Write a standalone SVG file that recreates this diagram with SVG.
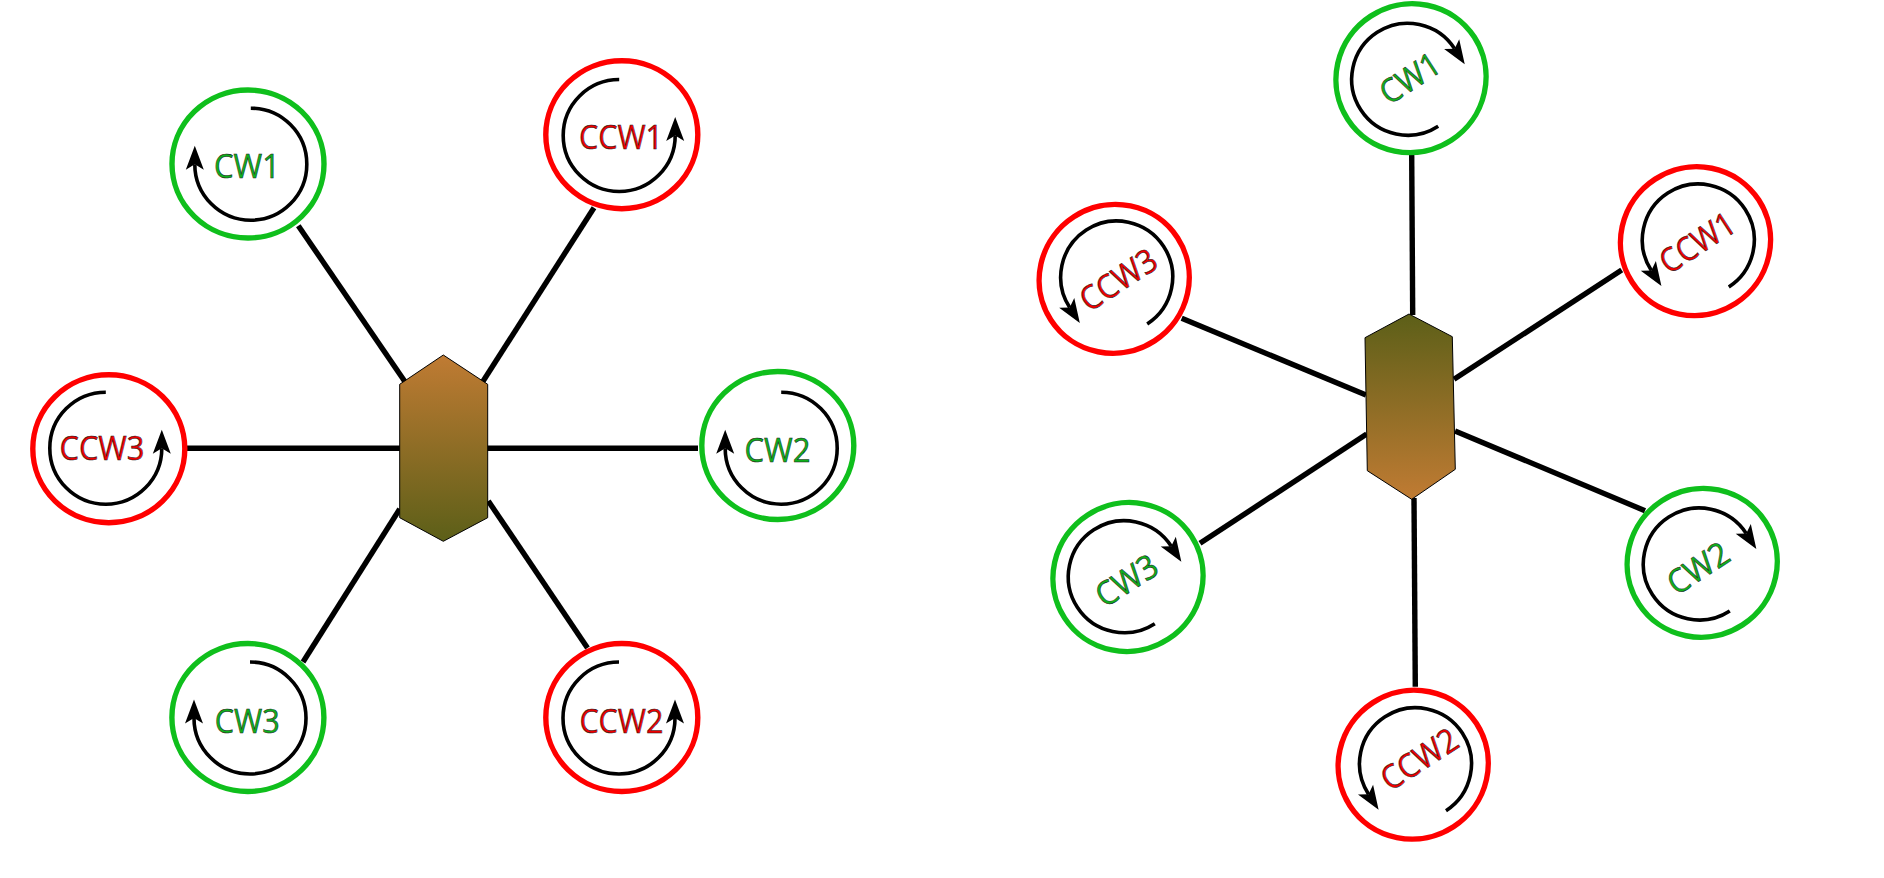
<svg xmlns="http://www.w3.org/2000/svg" width="1884" height="878" viewBox="0 0 1884 878">
<style>
.arm{stroke:#000;stroke-width:5.4;fill:none}
.ring{fill:#fff;stroke-width:5.4}
.g .ring{stroke:#0fbf1c}
.r .ring{stroke:#ff0000}
.spin{fill:none;stroke:#000;stroke-width:3.6;marker-end:url(#head)}
text{font-family:"Open Sans","Liberation Sans",sans-serif;font-size:33px;text-anchor:middle;stroke:#1a1a1a;stroke-width:.55px}
.g text{fill:#0fb01c}
.r text{fill:#ee0000}
.body{stroke:#000;stroke-width:1}
</style>
<defs>
<marker id="head" markerUnits="userSpaceOnUse" orient="auto" viewBox="-10 -11 32 22" refX="0" refY="0" markerWidth="32" markerHeight="22">
<path d="M18.5,0 L-5.5,-9 L0,0 L-5.5,9 Z" fill="#000"/>
</marker>
<linearGradient id="gradL" gradientUnits="userSpaceOnUse" x1="443" y1="355" x2="443" y2="541">
<stop offset="0" stop-color="#c07b33"/><stop offset="1" stop-color="#5c5f18"/>
</linearGradient>
<linearGradient id="gradR" gradientUnits="userSpaceOnUse" x1="1409" y1="314" x2="1412" y2="499">
<stop offset="0" stop-color="#5c5f18"/><stop offset="1" stop-color="#c07b33"/>
</linearGradient>
<path id="cw" class="spin" d="M0,-56 A56,56 0 1 1 -56,0"/>
<path id="ccw" class="spin" d="M0,-56 A56,56 0 1 0 56,0"/>
</defs>
<g id="connectors">
<line class="arm" x1="298.3" y1="225.7" x2="405" y2="381.7"/>
<line class="arm" x1="594" y1="207.7" x2="482.7" y2="381.7"/>
<line class="arm" x1="187" y1="448.3" x2="400" y2="448.3"/>
<line class="arm" x1="487" y1="448.3" x2="698" y2="448.3"/>
<line class="arm" x1="399.7" y1="509" x2="303" y2="662"/>
<line class="arm" x1="488.3" y1="501" x2="587.5" y2="648"/>
<line class="arm" x1="1411.7" y1="155" x2="1412.7" y2="315"/>
<line class="arm" x1="1414" y1="498" x2="1415.3" y2="686.7"/>
<line class="arm" x1="1181.7" y1="318.3" x2="1366" y2="395"/>
<line class="arm" x1="1454" y1="379.3" x2="1621.7" y2="270"/>
<line class="arm" x1="1455" y1="431" x2="1645" y2="510.7"/>
<line class="arm" x1="1366.7" y1="434" x2="1200" y2="543.3"/>
</g>
<g id="body-left"><polygon class="body" fill="url(#gradL)" points="443.3,355 487.7,384.3 487.7,517.7 443.3,541.3 399.7,517.7 399.7,384.3"/></g>
<g id="body-right"><polygon class="body" fill="url(#gradR)" points="1409,314 1452.3,336.7 1455.3,469.3 1411.7,499.3 1367.3,470.7 1365,337.7"/></g>

<g id="left-cw1" class="g"><ellipse class="ring" cx="248" cy="164" rx="76" ry="74"/><use href="#cw" transform="translate(250.8,164.2)"/><text x="247" y="178.3" textLength="66" lengthAdjust="spacingAndGlyphs">CW1</text></g>
<g id="left-ccw1" class="r"><ellipse class="ring" cx="621.8" cy="134.7" rx="76" ry="74"/><use href="#ccw" transform="translate(619.2,135.5)"/><text x="621" y="149" textLength="84" lengthAdjust="spacingAndGlyphs">CCW1</text></g>
<g id="left-ccw3" class="r"><ellipse class="ring" cx="108.8" cy="448.8" rx="76" ry="74"/><use href="#ccw" transform="translate(105.8,448.2)"/><text x="102" y="460" textLength="85" lengthAdjust="spacingAndGlyphs">CCW3</text></g>
<g id="left-cw2" class="g"><ellipse class="ring" cx="777.8" cy="445.5" rx="76" ry="74"/><use href="#cw" transform="translate(781.2,448.2)"/><text x="777.5" y="462.3" textLength="66" lengthAdjust="spacingAndGlyphs">CW2</text></g>
<g id="left-cw3" class="g"><ellipse class="ring" cx="247.9" cy="717.5" rx="76" ry="74"/><use href="#cw" transform="translate(250,718)"/><text x="247.3" y="732.5" textLength="65" lengthAdjust="spacingAndGlyphs">CW3</text></g>
<g id="left-ccw2" class="r"><ellipse class="ring" cx="621.8" cy="717.5" rx="76" ry="74"/><use href="#ccw" transform="translate(619,718)"/><text x="621.4" y="732.5" textLength="84" lengthAdjust="spacingAndGlyphs">CCW2</text></g>

<g id="right-cw1" class="g"><ellipse class="ring" cx="1411" cy="78.2" rx="75.5" ry="74" transform="rotate(147 1411 78.2)"/><use href="#cw" transform="translate(1407.7,79.3) rotate(147)"/><text transform="translate(1410,78.3) rotate(-33)" y="11.5" textLength="65" lengthAdjust="spacingAndGlyphs">CW1</text></g>
<g id="right-ccw3" class="r"><ellipse class="ring" cx="1114.2" cy="278.8" rx="75.5" ry="74" transform="rotate(147 1114.2 278.8)"/><use href="#ccw" transform="translate(1116.7,277) rotate(147)"/><text transform="translate(1118.3,280) rotate(-33)" y="11.5" textLength="85" lengthAdjust="spacingAndGlyphs">CCW3</text></g>
<g id="right-ccw1" class="r"><ellipse class="ring" cx="1695.5" cy="241.2" rx="75.5" ry="74" transform="rotate(147 1695.5 241.2)"/><use href="#ccw" transform="translate(1698.3,240) rotate(147)"/><text transform="translate(1697.3,242.7) rotate(-33)" y="11.5" textLength="83" lengthAdjust="spacingAndGlyphs">CCW1</text></g>
<g id="right-cw2" class="g"><ellipse class="ring" cx="1702.2" cy="562.8" rx="75.5" ry="74" transform="rotate(147 1702.2 562.8)"/><use href="#cw" transform="translate(1699.3,564) rotate(147)"/><text transform="translate(1698.3,568.3) rotate(-33)" y="11.5" textLength="67" lengthAdjust="spacingAndGlyphs">CW2</text></g>
<g id="right-cw3" class="g"><ellipse class="ring" cx="1128" cy="577" rx="75.5" ry="74" transform="rotate(147 1128 577)"/><use href="#cw" transform="translate(1124.3,576.7) rotate(147)"/><text transform="translate(1126.7,580.7) rotate(-33)" y="11.5" textLength="67" lengthAdjust="spacingAndGlyphs">CW3</text></g>
<g id="right-ccw2" class="r"><ellipse class="ring" cx="1413.2" cy="764.7" rx="75.5" ry="74" transform="rotate(147 1413.2 764.7)"/><use href="#ccw" transform="translate(1415.5,763.7) rotate(147)"/><text transform="translate(1419.3,759.3) rotate(-33)" y="11.5" textLength="85" lengthAdjust="spacingAndGlyphs">CCW2</text></g>
</svg>
